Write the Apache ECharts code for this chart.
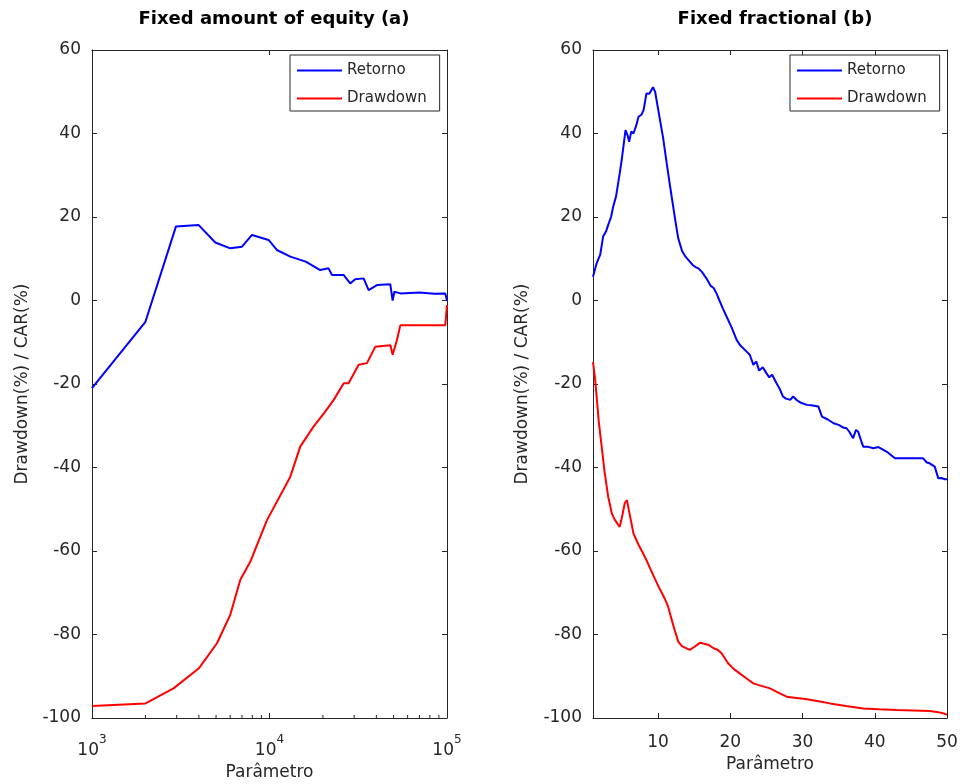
<!DOCTYPE html>
<html lang="en">

<head>
  <meta charset="UTF-8">
  <title>Retorno / Drawdown</title>
  <style>
    html,
    body {
      margin: 0;
      height: 100%;
      width: 100%;
      background: #fff;
    }
  </style>
</head>

<body>
  <div id="chart" style="width:960px;height:784px"></div>
  <script src="https://cdn.jsdelivr.net/npm/echarts@6/dist/echarts.min.js"></script>
  <script>
    // panel (a): fixed amount of equity, x on log scale
    const equityRetorno = [
      [1000, -21], [2000, -5.1], [2970, 17.7], [3980, 18.1], [4950, 13.9], [6010, 12.5],
      [7000, 12.9], [7970, 15.7], [9880, 14.5], [11000, 12.1], [13100, 10.5], [16000, 9.3],
      [19300, 7.3], [21500, 7.7], [22500, 6.1], [26200, 6.1], [28500, 4.1], [30400, 5.1],
      [33900, 5.3], [36200, 2.5], [40300, 3.7], [47900, 3.9], [49400, 0], [50500, 2.1],
      [54600, 1.7], [70000, 1.9], [85000, 1.6], [97800, 1.7], [100000, 0]
    ]
    const equityDrawdown = [
      [1000, -97.1], [2000, -96.5], [2880, -92.9], [4000, -88.1], [5060, -82.1], [6010, -75.3],
      [6850, -66.9], [7790, -62.6], [9680, -52.6], [13100, -42.2], [14900, -35], [17700, -30.2],
      [20600, -26.6], [23000, -23.8], [26200, -19.8], [27900, -19.8], [31800, -15.4], [35400, -15],
      [39400, -11.1], [48000, -10.7], [49400, -13], [52200, -9.5], [54600, -5.9], [97800, -5.9],
      [100000, -1.1]
    ]
    // panel (b): fixed fractional
    const fracRetorno = [
      [1.0, 5.7], [1.5, 8.9], [2.0, 11], [2.4, 15.3], [2.8, 16.5], [3.1, 18.1], [3.5, 20], [3.8, 22.5],
      [4.2, 25], [4.7, 30.5], [5.0, 34], [5.5, 40.8], [5.8, 39.5], [6.0, 38], [6.3, 40.5], [6.6, 40],
      [7.0, 42], [7.3, 44], [7.7, 44.5], [8.0, 45.6], [8.4, 49.6], [8.8, 49.5], [9.3, 51.1], [9.6, 50],
      [10.2, 44], [10.7, 39], [11.2, 32.9], [11.7, 27], [12.1, 22.5], [12.5, 18], [12.8, 14.9],
      [13.3, 12], [13.8, 10.5], [14.4, 9.3], [14.8, 8.5], [15.2, 8.0], [15.6, 7.7], [16.1, 6.8],
      [16.7, 5.3], [17.3, 3.5], [17.7, 3.0], [18.1, 1.7], [18.5, 0], [19.0, -2], [19.5, -3.9],
      [20.2, -6.5], [20.9, -9.5], [21.4, -10.8], [22.3, -12.3], [22.7, -13], [23.2, -15.4],
      [23.6, -14.6], [24.0, -16.8], [24.5, -16.0], [25.0, -17.4], [25.4, -18.4], [25.8, -17.8],
      [26.4, -19.8], [26.8, -21], [27.3, -23], [27.7, -23.5], [28.3, -23.8], [28.7, -23.0],
      [29.3, -24], [29.8, -24.5], [30.6, -25], [31.2, -25.1], [32.2, -25.4], [32.7, -27.8],
      [33.5, -28.5], [34.3, -29.4], [35.0, -29.8], [35.6, -30.4], [36.1, -30.6], [36.5, -31.5],
      [37.0, -33], [37.4, -31.0], [37.7, -31.4], [38.1, -33.5], [38.4, -35], [39.0, -35],
      [39.8, -35.4], [40.5, -35.1], [41.2, -35.8], [41.8, -36.4], [42.8, -37.8], [44, -37.8],
      [45, -37.8], [46.7, -37.8], [47.2, -38.8], [47.6, -39], [48.3, -39.8], [48.8, -42.6],
      [49.2, -42.5], [49.7, -42.8], [50, -42.8]
    ]
    const fracDrawdown = [
      [1.0, -14.7], [1.3, -19], [1.5, -23], [1.8, -29], [2.2, -35], [2.6, -41], [3.1, -47], [3.3, -48.5],
      [3.6, -51], [4.0, -52.5], [4.4, -53.5], [4.7, -54.2], [5.0, -52], [5.4, -48.5], [5.7, -47.8],
      [6.0, -50.5], [6.6, -55.8], [7.3, -58.5], [8.0, -60.8], [8.4, -62.2], [9.0, -64.5], [9.6, -66.8],
      [10.3, -69.3], [10.9, -71.3], [11.4, -73.3], [11.9, -76.5], [12.4, -79.5], [12.8, -81.7],
      [13.3, -82.8], [14.4, -83.7], [15.0, -83.0], [15.8, -82.0], [16.4, -82.2], [17.0, -82.5],
      [17.7, -83.3], [18.3, -83.7], [18.8, -84.5], [19.7, -86.9], [20.5, -88.3], [21.3, -89.3],
      [22.3, -90.6], [23.2, -91.7], [24.3, -92.3], [25.5, -92.9], [26.5, -93.8], [27.8, -94.9],
      [29.2, -95.2], [30.6, -95.5], [32.2, -96.0], [33.8, -96.5], [36, -97.1], [38.4, -97.7],
      [40.6, -97.9], [43.0, -98.1], [45.3, -98.2], [47.6, -98.3], [48.8, -98.6], [49.7, -99.0],
      [50, -99.2]
    ]

    const fracTicks = [10, 20, 30, 40, 50]
    const logMinorTicks = [2000, 3000, 4000, 5000, 6000, 7000, 8000, 9000,
      20000, 30000, 40000, 50000, 60000, 70000, 80000, 90000]
    const titles = ['Fixed amount of equity (a)', 'Fixed fractional (b)']

    const font = 'DejaVu Sans'
    const ink = '#262626'

    function boxAxis(extra) {
      return Object.assign({
        axisLine: { show: true, onZero: false, lineStyle: { color: ink, width: 1 } },
        axisTick: { show: true, inside: true, length: 5, lineStyle: { color: ink } },
        axisLabel: { show: false },
        splitLine: { show: false }
      }, extra)
    }

    const yBase = {
      type: 'value',
      min: -100,
      max: 60,
      interval: 20
    }

    const option = {
      animation: false,
      backgroundColor: '#fff',
      textStyle: { fontFamily: font },
      title: titles.map((t, i) => ({
        text: t,
        left: i === 0 ? 269 : 770,
        top: 5,
        textAlign: 'center',
        textStyle: { fontFamily: font, fontSize: 18, fontWeight: 'bold', color: '#000' }
      })),
      legend: [0, 1].map(i => ({
        data: ['Retorno', 'Drawdown'],
        orient: 'vertical',
        left: i === 0 ? 290 : 790,
        top: 55,
        padding: [8, 13, 5, 7],
        icon: 'rect',
        itemWidth: 45,
        itemHeight: 2,
        itemGap: 13,
        selectedMode: false,
        borderColor: ink,
        borderWidth: 1,
        backgroundColor: '#fff',
        textStyle: { fontFamily: font, fontSize: 15, color: ink }
      })),
      grid: [
        { left: 92, right: 513, top: 50, bottom: 66, outerBoundsMode: 'none' },
        { left: 593, right: 13, top: 50, bottom: 66, outerBoundsMode: 'none' }
      ],
      xAxis: [
        boxAxis({
          gridIndex: 0, type: 'log', logBase: 10, min: 1000, max: 100000, position: 'bottom',
          name: 'Parâmetro', nameLocation: 'middle', nameGap: 42,
          nameTextStyle: { fontFamily: font, fontSize: 17, color: ink },
          axisLabel: {
            show: true, margin: 16,
            formatter: v => '{b|10}{s|' + Math.round(Math.log10(v)) + '}',
            rich: {
              b: { fontFamily: font, fontSize: 17, color: ink, lineHeight: 25, verticalAlign: 'bottom' },
              s: { fontFamily: font, fontSize: 12, color: ink, lineHeight: 12, verticalAlign: 'top' }
            }
          }
        }),
        boxAxis({ gridIndex: 0, type: 'log', logBase: 10, min: 1000, max: 100000, position: 'top' }),
        boxAxis({
          gridIndex: 1, type: 'value', min: 1, max: 50, position: 'bottom',
          name: 'Parâmetro', nameLocation: 'middle', nameGap: 36,
          nameTextStyle: { fontFamily: font, fontSize: 17, color: ink },
          axisTick: { show: true, inside: true, length: 5, lineStyle: { color: ink }, customValues: fracTicks },
          axisLabel: { show: true, margin: 16, fontSize: 17, color: ink, fontFamily: font, customValues: fracTicks }
        }),
        boxAxis({
          gridIndex: 1, type: 'value', min: 1, max: 50, position: 'top',
          axisTick: { show: true, inside: true, length: 5, lineStyle: { color: ink }, customValues: fracTicks }
        })
      ],
      yAxis: [
        boxAxis(Object.assign({}, yBase, {
          gridIndex: 0, position: 'left',
          name: 'Drawdown(%) / CAR(%)', nameLocation: 'middle', nameGap: 61,
          nameTextStyle: { fontFamily: font, fontSize: 17, color: ink },
          axisLabel: { show: true, margin: 11, fontSize: 17, color: ink, fontFamily: font }
        })),
        boxAxis(Object.assign({}, yBase, { gridIndex: 0, position: 'right' })),
        boxAxis(Object.assign({}, yBase, {
          gridIndex: 1, position: 'left',
          name: 'Drawdown(%) / CAR(%)', nameLocation: 'middle', nameGap: 62,
          nameTextStyle: { fontFamily: font, fontSize: 17, color: ink },
          axisLabel: { show: true, margin: 11, fontSize: 17, color: ink, fontFamily: font }
        })),
        boxAxis(Object.assign({}, yBase, { gridIndex: 1, position: 'right' }))
      ],
      series: [
        {
          name: 'Retorno', type: 'line', xAxisIndex: 0, yAxisIndex: 0,
          data: equityRetorno, showSymbol: false, symbol: 'none',
          lineStyle: { color: '#0000ff', width: 2 }, itemStyle: { color: '#0000ff' }
        },
        {
          name: 'Drawdown', type: 'line', xAxisIndex: 0, yAxisIndex: 0,
          data: equityDrawdown, showSymbol: false, symbol: 'none',
          lineStyle: { color: '#ff0000', width: 2 }, itemStyle: { color: '#ff0000' }
        },
        {
          name: 'Retorno', type: 'line', xAxisIndex: 2, yAxisIndex: 2,
          data: fracRetorno, showSymbol: false, symbol: 'none',
          lineStyle: { color: '#0000ff', width: 2 }, itemStyle: { color: '#0000ff' }
        },
        {
          name: 'Drawdown', type: 'line', xAxisIndex: 2, yAxisIndex: 2,
          data: fracDrawdown, showSymbol: false, symbol: 'none',
          lineStyle: { color: '#ff0000', width: 2 }, itemStyle: { color: '#ff0000' }
        },
        {
          // minor ticks of the log axis (2..9 x 10^n)
          type: 'custom', xAxisIndex: 0, yAxisIndex: 0, silent: true, z: 5,
          data: logMinorTicks.map(v => [v, -100]),
          renderItem: function (params, api) {
            const p = api.coord([api.value(0), api.value(1)])
            return {
              type: 'line',
              shape: { x1: p[0], y1: p[1], x2: p[0], y2: p[1] - 3 },
              style: { stroke: ink, lineWidth: 1 }
            }
          }
        }
      ]
    }

    const myChart = echarts.init(document.getElementById('chart'))
    myChart.setOption(option)
  </script>
</body>

</html>
